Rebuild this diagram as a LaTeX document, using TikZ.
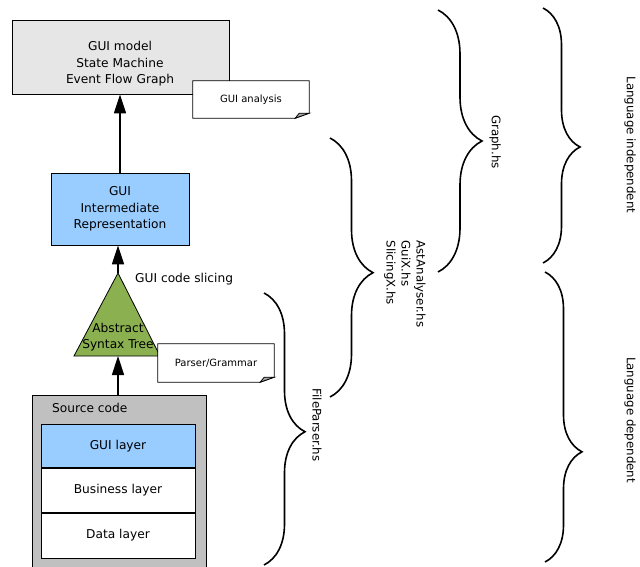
\documentclass[tikz,border=0pt]{standalone}
\usepackage{fontspec}
\setmainfont{DejaVu Sans}
\usetikzlibrary{arrows.meta,decorations.pathreplacing,calc}
\definecolor{modelgray}{HTML}{E6E6E6}
\definecolor{guiblue}{HTML}{99CCFF}
\definecolor{srcgray}{HTML}{C0C0C0}
\definecolor{astgreen}{HTML}{8AB04F}
\definecolor{foldgray}{HTML}{A8A8A8}
\begin{document}
\begin{tikzpicture}[x=1pt,y=-1pt,
  box/.style={draw=black, line width=0.8pt, inner sep=0pt},
  lbl/.style={font=\fontsize{12.2}{16.5}\selectfont, align=center, inner sep=0pt},
  side/.style={font=\fontsize{11.8}{15}\selectfont, inner sep=0pt, rotate=-90},
  notebox/.style={fill=white, inner sep=0pt, font=\fontsize{10}{12}\selectfont},
  noteline/.style={draw=black, line width=0.8pt},
  flow/.style={line width=1.5pt, -{Triangle[length=19pt,width=12pt]}},
  brc/.style={decorate, line width=1.6pt}]
\useasboundingbox (0,0) rectangle (640,567);
\clip (0,0) rectangle (640,567);

% GUI model
\node[box, fill=modelgray, minimum width=217pt, minimum height=74pt] (model) at (120.5,57) {};
\node[lbl] (modeltxt) at (120,64) {GUI model\\State Machine\\Event Flow Graph};

% GUI analysis note
\node[notebox, minimum width=116pt, minimum height=37pt] (ana) at (251,99.5) {GUI analysis};
\draw[noteline] (ana.north west) -- (ana.north east) -- ($(ana.south east)+(0,-5)$) -- ($(ana.south east)+(-14,0)$) -- (ana.south west) -- cycle;
\filldraw[noteline, fill=foldgray] ($(ana.south east)+(-14,0)$) -- ($(ana.south east)+(0,-5)$) -- ($(ana.south east)+(-10,-5)$) -- cycle;

% GUI IR
\node[box, lbl, fill=guiblue, minimum width=138pt, minimum height=72pt] (ir) at (120,209) {GUI\\Intermediate\\Representation};

% AST triangle
\coordinate (apex) at (118,273);
\coordinate (bl) at (74,356);
\coordinate (br) at (160,356);
\coordinate (base) at (118,356);
\filldraw[fill=astgreen, line width=0.8pt] (apex) -- (br) -- (bl) -- cycle;
\node[lbl] (asttxt) at (118,337) {Abstract\\Syntax Tree};

\node[lbl, anchor=west] (slice) at (135,279) {GUI code slicing};

% Parser note
\node[notebox, minimum width=116pt, minimum height=38pt] (pg) at (216,363) {Parser/Grammar};
\draw[noteline] (pg.north west) -- (pg.north east) -- ($(pg.south east)+(0,-5)$) -- ($(pg.south east)+(-14,0)$) -- (pg.south west) -- cycle;
\filldraw[noteline, fill=foldgray] ($(pg.south east)+(-14,0)$) -- ($(pg.south east)+(0,-5)$) -- ($(pg.south east)+(-10,-5)$) -- cycle;

% Source code
\node[box, fill=srcgray, minimum width=174pt, minimum height=185pt, anchor=north] (src) at (119,395) {};
\node[lbl, anchor=west] (srctxt) at (52,408) {Source code};
\node[box, lbl, fill=guiblue, minimum width=154pt, minimum height=43pt, anchor=north] (guil) at (118,424) {GUI layer};
\node[box, lbl, fill=white, minimum width=154pt, minimum height=44pt, anchor=north] (bus) at (guil.south) {Business layer};
\node[box, lbl, fill=white, minimum width=154pt, minimum height=45pt, anchor=north] (data) at (bus.south) {Data layer};

% arrows
\draw[flow] (src.north -| apex) -- (base);
\draw[flow] (apex) -- (apex |- ir.south);
\draw[flow] (ir.north) -- (model.south -| ir.north);

% braces
\coordinate (fpA) at (264,293); \coordinate (fpB) at (264,565);
\draw[brc, decoration={brace, amplitude=41pt, aspect=0.51}] (fpA) -- (fpB);
\node[side] (fp) at (317,425) {FileParser.hs};

\coordinate (asA) at (330,138); \coordinate (asB) at (330,397);
\draw[brc, decoration={brace, amplitude=43pt, aspect=0.52}] (asA) -- (asB);
\node[side, align=left] (ast) at (405,284) {AstAnalyser.hs\\GuiX.hs\\SlicingX.hs};

\coordinate (grA) at (438,10); \coordinate (grB) at (438,272);
\draw[brc, decoration={brace, amplitude=44pt, aspect=0.5}] (grA) -- (grB);
\node[side] (gr) at (495,142) {Graph.hs};

\coordinate (liA) at (543,8); \coordinate (liB) at (543,263);
\draw[brc, decoration={brace, amplitude=37pt, aspect=0.545}] (liA) -- (liB);
\node[side] (li) at (630,145) {Language independent};

\coordinate (ldA) at (545,272); \coordinate (ldB) at (545,562);
\draw[brc, decoration={brace, amplitude=37pt, aspect=0.62}] (ldA) -- (ldB);
\node[side] (ld) at (630,420) {Language dependent};
\end{tikzpicture}
\end{document}
